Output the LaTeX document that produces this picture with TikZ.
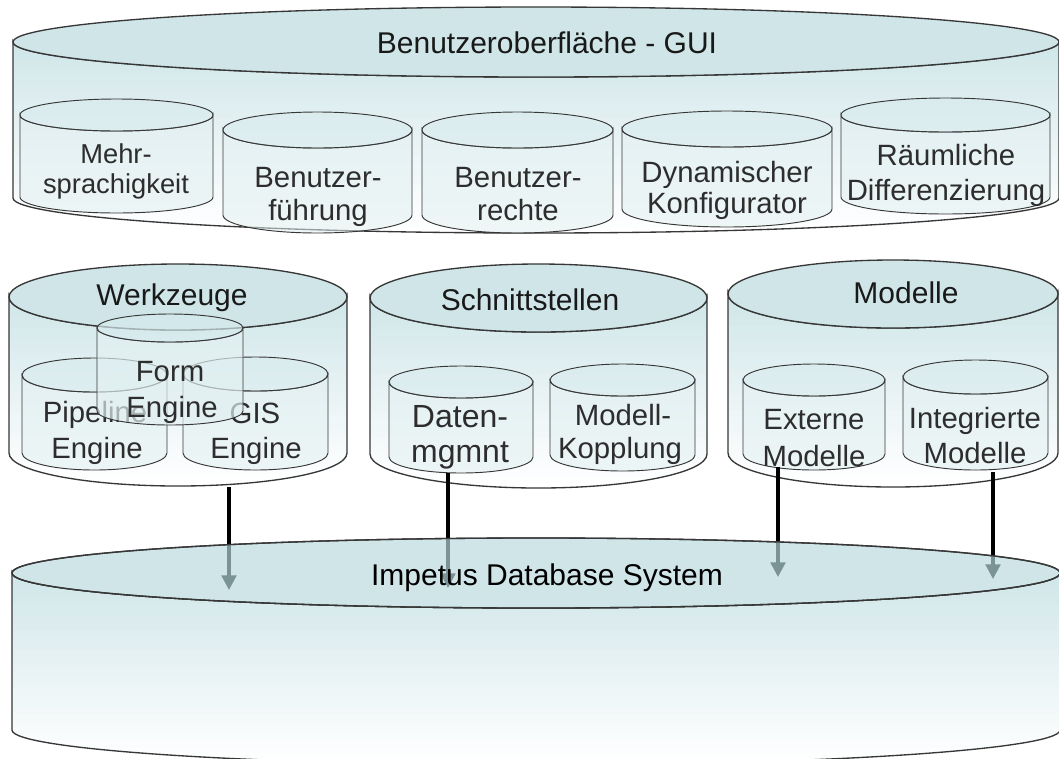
\documentclass[tikz,border=0pt]{standalone}
\usepackage{fontspec}
\setmainfont{Liberation Sans}
\usetikzlibrary{arrows.meta}
\definecolor{linec}{RGB}{55,55,55}
\definecolor{lidc}{RGB}{207,229,232}
\definecolor{bodytop}{RGB}{208,230,233}
\definecolor{ilidc}{RGB}{214,234,237}
\definecolor{ibodyc}{RGB}{226,240,241}
\definecolor{arrg}{RGB}{122,147,150}
\definecolor{txtc}{RGB}{25,25,25}
\definecolor{itxtc}{RGB}{45,45,45}
% outer drum: x1 x2 yTop yBottom ry ; banded vertical gradient, opaque
\newcommand\outerdrum[5]{%
  \pgfmathsetmacro\rxx{(#2-#1)/2}%
  \pgfmathsetmacro\cxx{(#2+#1)/2}%
  \begin{scope}
    \clip (#1,#3) arc[start angle=180,end angle=0,x radius=\rxx,y radius=#5]
      -- (#2,#4) arc[start angle=0,end angle=180,x radius=\rxx,y radius=#5] -- cycle;
    \pgfmathsetmacro\hh{(#4+#5-#3+2)/30}%
    \foreach \i in {0,...,29}{%
      \pgfmathsetmacro\ya{#3-1+\i*\hh}%
      \pgfmathsetmacro\yb{\ya+\hh+0.8}%
      \pgfmathtruncatemacro\pc{100-\i*100/29}%
      \fill[bodytop!\pc!white] (#1-2,\ya) rectangle (#2+2,\yb);
    }
  \end{scope}
  \draw[outl] (#1,#3) arc[start angle=180,end angle=0,x radius=\rxx,y radius=#5]
      -- (#2,#4) arc[start angle=0,end angle=180,x radius=\rxx,y radius=#5] -- cycle;
  \draw[outl, fill=lidc] (\cxx,#3) ellipse[x radius=\rxx,y radius=#5];
}
% inner drum: x1 x2 yTop yBottom ry opacity
\newcommand\innerdrum[6]{%
  \pgfmathsetmacro\rxx{(#2-#1)/2}%
  \pgfmathsetmacro\cxx{(#2+#1)/2}%
  \path[inl, fill=ibodyc, fill opacity=#6] (#1,#3) arc[start angle=180,end angle=0,x radius=\rxx,y radius=#5]
      -- (#2,#4) arc[start angle=0,end angle=180,x radius=\rxx,y radius=#5] -- cycle;
  \path[inl, fill=ilidc, fill opacity=#6] (\cxx,#3) ellipse[x radius=\rxx,y radius=#5];
}
\begin{document}
\begin{tikzpicture}[x=0.75pt,y=-0.75pt,
  outl/.style={draw=linec, line width=1pt},
  inl/.style={draw=linec, line width=0.7pt},
  title/.style={font=\fontsize{22.5}{27}\selectfont, text=txtc, inner sep=0pt},
  lbl/.style={font=\fontsize{22}{26}\selectfont, text=itxtc, inner sep=0pt},
  conn/.style={line width=2.4pt, draw=black, -{Triangle[width=11pt,length=11pt]}},
]
\clip (0,0) rectangle (1059,758);
\fill[white] (0,0) rectangle (1059,758);
% GUI
\outerdrum{13}{1059}{42}{198}{35}
\node[title, anchor=base] (gui) at (547,53) {Benutzeroberfläche - GUI};
\innerdrum{20}{213}{115}{197}{16}{0.55}
\innerdrum{223}{412}{130}{215}{18}{0.55}
\innerdrum{422}{613}{130}{215}{18}{0.55}
\innerdrum{622}{832}{129}{209}{18}{0.55}
\innerdrum{841}{1050}{115}{197}{17}{0.55}
\node[lbl, anchor=base, font=\fontsize{20.5}{24}\selectfont] (m1) at (116,163) {Mehr-};
\node[lbl, anchor=base, font=\fontsize{20.5}{24}\selectfont] (m2) at (116,193) {sprachigkeit};
\node[lbl, anchor=base] (bf1) at (318,187) {Benutzer-};
\node[lbl, anchor=base] (bf2) at (318,220) {führung};
\node[lbl, anchor=base] (br1) at (518,187) {Benutzer-};
\node[lbl, anchor=base] (br2) at (518,220) {rechte};
\node[lbl, anchor=base] (dk1) at (727,182) {Dynamischer};
\node[lbl, anchor=base] (dk2) at (727,213) {Konfigurator};
\node[lbl, anchor=base] (rd1) at (946,165) {Räumliche};
\node[lbl, anchor=base] (rd2) at (946,200) {Differenzierung};
% Werkzeuge
\outerdrum{9}{347}{297}{453}{33}
\node[title, anchor=base] (wz) at (172,305) {Werkzeuge};
\innerdrum{22}{167}{375}{453}{17}{0.55}
\innerdrum{183}{328}{374}{453}{17}{0.55}
\node[lbl, anchor=base] (pe1) at (95,422) {Pipeline};
\node[lbl, anchor=base] (pe2) at (97,458) {Engine};
\node[lbl, anchor=base] (ge1) at (255,423) {GIS};
\node[lbl, anchor=base] (ge2) at (256,458) {Engine};
\innerdrum{97}{243}{328}{411}{14}{0.68}
\node[lbl, anchor=base] (fe1) at (170,381) {Form};
\node[lbl, anchor=base] (fe2) at (172,417) {Engine};
% Schnittstellen
\outerdrum{370}{707}{298}{454}{34}
\node[title, anchor=base] (ss) at (530,310) {Schnittstellen};
\innerdrum{389}{533}{382}{457}{16}{0.55}
\innerdrum{550}{695}{380}{455}{16}{0.55}
\node[lbl, anchor=base, font=\fontsize{24}{28}\selectfont] (dm1) at (460,427) {Daten-};
\node[lbl, anchor=base, font=\fontsize{24}{28}\selectfont] (dm2) at (460,462) {mgmnt};
\node[lbl, anchor=base] (mk1) at (623,425) {Modell-};
\node[lbl, anchor=base] (mk2) at (620,458) {Kopplung};
% Modelle
\outerdrum{728}{1058}{294}{453}{34}
\node[title, anchor=base] (mo) at (906,303) {Modelle};
\innerdrum{743}{885}{380}{454}{16}{0.55}
\innerdrum{903}{1048}{377}{453}{17}{0.55}
\node[lbl, anchor=base] (em1) at (814,429) {Externe};
\node[lbl, anchor=base] (em2) at (814,466) {Modelle};
\node[lbl, anchor=base] (im1) at (975,428) {Integrierte};
\node[lbl, anchor=base] (im2) at (975,463) {Modelle};
% connectors
\coordinate (a1s) at (229,487); \coordinate (a1e) at (229,590);
\coordinate (a2s) at (448,473); \coordinate (a2e) at (448,588);
\coordinate (a3s) at (778,467); \coordinate (a3e) at (778,577);
\coordinate (a4s) at (993,472); \coordinate (a4e) at (993,579);
\draw[conn] (a1s) -- (a1e);
\draw[conn] (a2s) -- (a2e);
\draw[conn] (a3s) -- (a3e);
\draw[conn] (a4s) -- (a4e);
% Impetus DB (covers the connectors, which then show through in grey)
\outerdrum{12}{1060}{573}{730}{35}
\begin{scope}
  \clip (12,573) arc[start angle=180,end angle=360,x radius=524,y radius=35]
    -- (1060,730) arc[start angle=0,end angle=180,x radius=524,y radius=35] -- cycle;
  \draw[conn, draw=arrg] (a1s) -- (a1e);
  \draw[conn, draw=arrg] (a2s) -- (a2e);
  \draw[conn, draw=arrg] (a3s) -- (a3e);
  \draw[conn, draw=arrg] (a4s) -- (a4e);
\end{scope}
\draw[outl] (536,573) ellipse[x radius=524,y radius=35];
\node[title, anchor=base, text=black] (db) at (547,585) {Impetus Database System};
\end{tikzpicture}
\end{document}
